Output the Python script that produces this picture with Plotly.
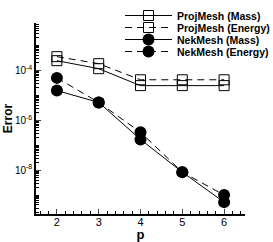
import plotly.graph_objects as go

p = [2, 3, 4, 5, 6]
proj_mass = [2.45e-4, 1.17e-4, 2.45e-5, 2.45e-5, 2.45e-5]
proj_energy = [3.55e-4, 1.86e-4, 4.2e-5, 4.2e-5, 4.2e-5]
nek_mass = [1.55e-5, 5.2e-6, 1.7e-7, 8.3e-9, 5.2e-10]
nek_energy = [5.0e-5, 5.2e-6, 3.3e-7, 8.3e-9, 1.0e-9]
names = ["ProjMesh (Mass)", "ProjMesh (Energy)", "NekMesh (Mass)", "NekMesh (Energy)"]
ytick_vals = [1e-4, 1e-6, 1e-8]
ytick_text = ["10<sup>-4</sup>", "10<sup>-6</sup>", "10<sup>-8</sup>"]

series = [proj_mass, proj_energy, nek_mass, nek_energy]
dashes = ["solid", "7px,5px", "solid", "7px,5px"]
markers = [
    dict(symbol="square-open", size=10, color="black", line=dict(width=1, color="black")),
    dict(symbol="square-open", size=10, color="black", line=dict(width=1, color="black")),
    dict(symbol="circle", size=12, color="black"),
    dict(symbol="circle", size=12, color="black"),
]

fig = go.Figure()
legend_ids = ["legend", "legend2", "legend3", "legend4"]
for i in range(4):
    fig.add_trace(go.Scatter(
        x=p, y=series[i], name=names[i], mode="lines+markers",
        line=dict(color="black", width=1, dash=dashes[i]),
        marker=markers[i], legend=legend_ids[i], cliponaxis=False,
    ))

font = "Liberation Sans, Arial, sans-serif"
layout_legends = {}
top_px = [15.5, 27.5, 39.5, 51.5]
for i, lid in enumerate(legend_ids):
    yp = (214 - top_px[i]) / 191.0
    layout_legends[lid] = dict(
        x=(120 - 36) / 209.0, xanchor="left", y=yp, yanchor="middle",
        bgcolor="rgba(0,0,0,0)", borderwidth=0,
        font=dict(family=font, size=10.5, color="black", weight="bold"),
        itemwidth=47,
    )

fig.update_layout(
    width=273, height=242,
    margin=dict(l=36, r=28, t=23, b=28, autoexpand=False),
    paper_bgcolor="white", plot_bgcolor="white",
    showlegend=True,
    font=dict(family=font, color="black"),
    xaxis=dict(
        range=[1.5, 6.5], tickvals=p, ticks="inside", ticklen=5, tickwidth=1,
        showline=True, linecolor="black", linewidth=1.5, showgrid=False, zeroline=False,
        automargin=False, ticklabelstandoff=-3,
        tickfont=dict(size=11, family=font, color="black"),
        minor=dict(dtick=0.2, ticks="inside", ticklen=3, tickcolor="black", showgrid=False),
        title=dict(text="<b>p</b>", font=dict(size=13, family=font), standoff=2),
    ),
    yaxis=dict(
        type="log", range=[-9.76, -2.1], tickvals=ytick_vals, ticktext=ytick_text,
        ticks="inside", ticklen=5, tickwidth=1,
        showline=True, linecolor="black", linewidth=1.5, showgrid=False, zeroline=False,
        automargin=False,
        tickfont=dict(size=10, family=font, color="black"),
        minor=dict(tickvals=[k * 10.0 ** n for n in range(-10, -1) for k in range(1, 10)],
                   ticks="inside", ticklen=3, tickcolor="black", showgrid=False),
        title=dict(text="<b>Error</b>", font=dict(size=12, family=font), standoff=0),
    ),
    **layout_legends,
)

fig.write_html("out.html", config={"displayModeBar": False},
               post_script="document.body.style.margin='0';")
